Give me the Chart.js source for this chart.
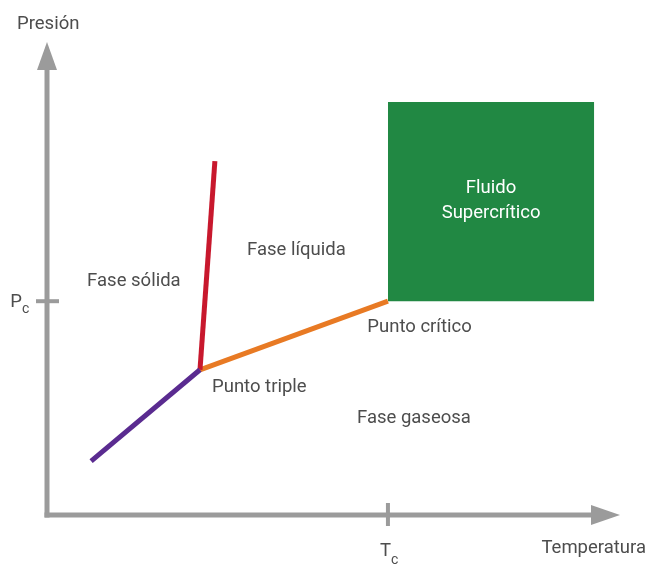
<!DOCTYPE html>
<html>
<head>
<meta charset="utf-8">
<script src="https://cdn.jsdelivr.net/npm/chart.js@4"></script>
<style>
  body { margin: 0; background: #fff; }
  #wrap { width: 649px; height: 566px; }
</style>
</head>
<body>
<div id="wrap"><canvas id="phase" width="649" height="566"></canvas></div>
<script>
/*************** data (temperature / pressure, arbitrary units 0-100) ***************/
const sublimationT = [7.7, 26.7];     // solid - gas line
const sublimationP = [11.4, 30.7];
const fusionT = [26.7, 29.3];          // solid - liquid line
const fusionP = [30.7, 74.8];
const vaporT = [26.7, 59.5];           // liquid - gas line, ends in the critical point
const vaporP = [30.7, 45.2];
const superT = [59.5, 95.5];           // supercritical fluid block
const superP = [45.2, 87.3];

const tickTemps = [59.5];   // T_c
const tickTempLabels = ['T'];
const tickPress = [45.2];   // P_c
const tickPressLabels = ['P'];

const regionNames = ['Fase sólida', 'Fase líquida', 'Punto triple', 'Punto crítico', 'Fase gaseosa'];
const regionT = [7.0, 34.9, 28.8, 55.9, 54.1];
const regionP = [49.8, 56.3, 27.5, 40.0, 20.9];

const textColor = '#4d4d4d';
const axisColor = '#9b9b9b';
const font = '"Roboto", "Liberation Sans", sans-serif';
const fs = '18.5px ';

function pts(xs, ys) {
    return xs.map((x, i) => ({ x: x, y: ys[i] }));
}

/*************** axes with arrows + tick marks ***************/
const axesPlugin = {
    id: 'arrowAxes',
    beforeDatasetsDraw(chart) {
        const ctx = chart.ctx;
        const xs = chart.scales.x, ys = chart.scales.y;
        const x0 = xs.getPixelForValue(0), y0 = ys.getPixelForValue(0);
        const xEnd = xs.getPixelForValue(100), yEnd = ys.getPixelForValue(100);
        ctx.save();
        ctx.strokeStyle = axisColor;
        ctx.fillStyle = axisColor;
        ctx.lineWidth = 5;
        ctx.lineCap = 'butt';
        ctx.beginPath();
        ctx.moveTo(x0, yEnd + 20);
        ctx.lineTo(x0, y0 + 2.5);
        ctx.stroke();
        ctx.beginPath();
        ctx.moveTo(x0 - 2.5, y0);
        ctx.lineTo(xEnd - 25, y0);
        ctx.stroke();
        // arrow heads
        ctx.beginPath();
        ctx.moveTo(x0, yEnd);
        ctx.lineTo(x0 + 10, yEnd + 28);
        ctx.lineTo(x0 - 10, yEnd + 28);
        ctx.closePath();
        ctx.fill();
        ctx.beginPath();
        ctx.moveTo(xEnd, y0);
        ctx.lineTo(xEnd - 29, y0 - 10);
        ctx.lineTo(xEnd - 29, y0 + 10);
        ctx.closePath();
        ctx.fill();
        // ticks
        ctx.lineWidth = 4;
        tickTemps.forEach(t => {
            const px = xs.getPixelForValue(t);
            ctx.beginPath();
            ctx.moveTo(px, y0 - 12);
            ctx.lineTo(px, y0 + 11);
            ctx.stroke();
        });
        tickPress.forEach(p => {
            const py = ys.getPixelForValue(p);
            ctx.beginPath();
            ctx.moveTo(x0 - 11, py);
            ctx.lineTo(x0 + 12, py);
            ctx.stroke();
        });
        ctx.restore();
    },
    afterDatasetsDraw(chart) {
        const ctx = chart.ctx;
        const xs = chart.scales.x, ys = chart.scales.y;
        const x0 = xs.getPixelForValue(0), y0 = ys.getPixelForValue(0);
        ctx.save();
        ctx.fillStyle = textColor;
        ctx.textBaseline = 'middle';
        ctx.font = fs + font;

        // axis titles
        ctx.textAlign = 'left';
        ctx.fillText('Presión', 17, 24);
        ctx.textAlign = 'right';
        ctx.fillText('Temperatura', 646, 548);

        // tick labels with subscript c
        tickTemps.forEach((t, i) => {
            const px = xs.getPixelForValue(t);
            ctx.font = fs + font;
            ctx.textAlign = 'right';
            ctx.fillText(tickTempLabels[i], px + 3, y0 + 36);
            ctx.font = '14px ' + font;
            ctx.textAlign = 'left';
            ctx.fillText('c', px + 3, y0 + 45);
        });
        tickPress.forEach((p, i) => {
            const py = ys.getPixelForValue(p);
            ctx.font = fs + font;
            ctx.textAlign = 'right';
            ctx.fillText(tickPressLabels[i], x0 - 25, py + 1);
            ctx.font = '14px ' + font;
            ctx.textAlign = 'left';
            ctx.fillText('c', x0 - 25, py + 8);
        });

        // region labels
        ctx.font = fs + font;
        ctx.textAlign = 'left';
        regionNames.forEach((name, i) => {
            ctx.fillText(name, xs.getPixelForValue(regionT[i]), ys.getPixelForValue(regionP[i]) + 2);
        });

        // label inside the supercritical block
        const cx = (xs.getPixelForValue(superT[0]) + xs.getPixelForValue(superT[1])) / 2;
        const cy = ys.getPixelForValue(superP[1]);
        ctx.fillStyle = '#ffffff';
        ctx.textAlign = 'center';
        ctx.fillText('Fluido', cx, cy + 86);
        ctx.fillText('Supercrítico', cx, cy + 111);
        ctx.restore();
    }
};

/*************** chart ***************/
const phaseChart = new Chart(document.getElementById('phase'), {
    type: 'scatter',
    data: {
        datasets: [
            {
                data: pts(superT, [superP[1], superP[1]]),
                showLine: true,
                borderWidth: 0,
                pointRadius: 0,
                backgroundColor: '#218843',
                borderColor: '#218843',
                fill: { value: superP[0] }
            },
            {
                data: pts(sublimationT, sublimationP),
                showLine: true,
                borderColor: '#5a2b90',
                borderWidth: 5,
                borderCapStyle: 'butt',
                pointRadius: 0
            },
            {
                data: pts(fusionT, fusionP),
                showLine: true,
                borderColor: '#c8182d',
                borderWidth: 5,
                borderCapStyle: 'butt',
                pointRadius: 0
            },
            {
                data: pts(vaporT, vaporP),
                showLine: true,
                borderColor: '#e87a24',
                borderWidth: 5,
                borderCapStyle: 'butt',
                pointRadius: 0
            }
        ]
    },
    options: {
        responsive: false,
        animation: false,
        layout: { padding: { left: 47, right: 29, top: 42, bottom: 51 } },
        plugins: { legend: { display: false }, tooltip: { enabled: false } },
        scales: {
            x: { type: 'linear', min: 0, max: 100, display: false },
            y: { type: 'linear', min: 0, max: 100, display: false }
        }
    },
    plugins: [axesPlugin]
});
</script>
</body>
</html>
